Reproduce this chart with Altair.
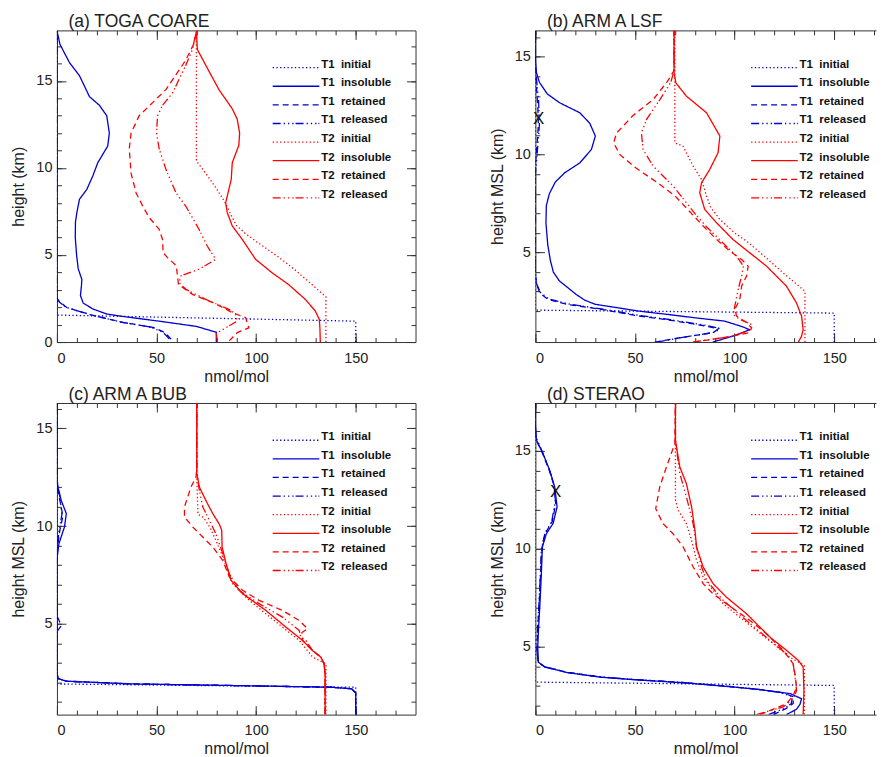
import altair as alt
import pandas as pd

# ---------------- data: (mixing ratio nmol/mol, height km) ----------------
A_T1_INITIAL = [(150, 0), (150, 1.2), (0, 1.55), (0, 17.9)]
A_T1_INSOLUBLE = [(80, 0), (80, 0.56), (70, 0.9), (50, 1.22), (33, 1.47), (25, 1.61), (18, 1.9),
                  (13.2, 2.24), (11.8, 2.66), (12.3, 3.24), (12.5, 3.6), (10.7, 4.2), (9.9, 4.96),
                  (9.2, 6.0), (9.3, 6.9), (10, 7.43), (11.3, 8.2), (15, 8.77), (18, 9.54), (20.5, 10.3),
                  (25.5, 11.26), (26.3, 12.0), (25, 13.0), (21.3, 13.6), (16.3, 14.1), (11.3, 15.3),
                  (6.3, 16.05), (1.5, 17.1), (0, 17.9)]
A_T1_RETAINED = [(57.3, 0.17), (55, 0.45), (53.2, 0.6), (48.2, 0.84), (33.2, 1.13), (19.9, 1.48),
                 (9.9, 1.8), (4.9, 1.99), (1.5, 2.3), (0, 2.5), (0, 17.9)]
A_T1_RELEASED = [(56.5, 0.17), (54, 0.48), (52, 0.62), (47, 0.86), (32, 1.15), (19, 1.5),
                 (9.5, 1.82), (4.5, 2.0), (1.2, 2.3), (0, 2.5), (0, 17.9)]
A_T2_INITIAL = [(135, 0), (135, 2.6), (128, 3.3), (120, 4.1), (111, 4.9), (101, 5.7), (95, 6.2),
                (90, 6.7), (87, 7.4), (84, 8.1), (79, 9.0), (74, 9.8), (70, 10.4), (70, 17.9)]
A_T2_INSOLUBLE = [(132.2, 0), (132, 0.8), (131.7, 1.3), (129.7, 1.78), (124.7, 2.45), (116.3, 3.3),
                  (108, 3.98), (99.7, 4.75), (93, 5.9), (88, 6.67), (85.5, 7.43), (84.7, 8.0),
                  (86.3, 8.77), (87.5, 9.35), (88, 10.3), (91.3, 11.3), (91.7, 12.0), (90.5, 12.8),
                  (88, 13.4), (81.3, 14.5), (74.7, 15.9), (70.5, 16.8), (70, 17.9)]
A_T2_RETAINED = [(86.5, 0.07), (90.5, 0.54), (96.3, 0.82), (94.7, 1.4), (88, 1.69), (80, 2.18),
                 (68, 2.74), (61, 3.3), (60.5, 3.8), (59.9, 4.39), (55.5, 4.85), (53.3, 5.13),
                 (53, 5.9), (51.3, 6.48), (46.3, 7.15), (43, 7.82), (39.7, 8.58), (37.2, 9.7),
                 (36.3, 11.1), (37.2, 12.0), (41.3, 13.0), (48, 13.75), (54.7, 14.5), (64.7, 16.2),
                 (69, 17.2), (70, 17.9)]
A_T2_RELEASED = [(80.5, 0.05), (80, 0.5), (86, 0.9), (90.5, 1.2), (89.7, 1.59), (86.3, 1.88),
                 (74.7, 2.45), (64.7, 3.03), (61.3, 3.4), (62.2, 3.8), (71.3, 4.18), (79.7, 4.75),
                 (75.5, 5.5), (71.3, 6.48), (64.7, 7.8), (59.7, 8.58), (54.7, 9.92), (51.3, 11.1),
                 (50, 12.0), (50.5, 13.0), (53, 13.6), (58, 14.3), (64.7, 15.9), (68, 16.8), (70, 17.9)]

B_T1_INITIAL = [(150, 0.42), (150, 1.9), (0, 2.05), (0, 16.35)]
B_T1_INSOLUBLE = [(89, 0.42), (100, 0.75), (107.5, 1.05), (104, 1.2), (95, 1.49), (80, 1.66),
                  (66.6, 1.83), (52, 2.0), (41.5, 2.17), (30, 2.35), (24.8, 2.56), (20.5, 2.85),
                  (16.4, 3.19), (12, 3.55), (9, 4.0), (7.5, 4.6), (6.2, 5.4), (5.3, 6.5), (5.5, 7.4),
                  (7, 8.0), (10, 8.6), (14.7, 9.07), (22.3, 9.58), (28.1, 10.26), (30.1, 10.95),
                  (27.3, 11.6), (22.3, 12.14), (12.2, 12.65), (6, 13.1), (2, 13.7), (0.5, 14.2),
                  (0, 14.8), (0, 16.35)]
B_T1_RETAINED = [(59.9, 0.42), (72.5, 0.64), (89.2, 0.9), (91.8, 1.1), (85, 1.25), (66.7, 1.55),
                 (50, 1.78), (33.1, 2.09), (16.3, 2.34), (6.3, 2.6), (2.2, 2.94), (0.5, 3.4), (0, 4.0),
                 (0, 9.5), (0.8, 10.5), (1.5, 11.5), (1.2, 12.5), (0.5, 13.5), (0, 14.5), (0, 16.35)]
B_T1_RELEASED = [(61, 0.42), (74, 0.66), (90.5, 0.93), (92.5, 1.12), (86, 1.27), (68, 1.56),
                 (51, 1.8), (34, 2.1), (17, 2.36), (6.8, 2.62), (2.5, 2.96), (0.6, 3.4), (0, 4.0),
                 (0, 9.0), (1.0, 10.2), (2.0, 11.5), (1.6, 12.8), (0.6, 13.8), (0, 14.6), (0, 16.35)]
B_T2_INITIAL = [(135.3, 0.42), (135.3, 3.02), (125, 3.9), (115, 4.8), (107, 5.5), (100, 6.0),
                (92.6, 6.69), (88, 7.3), (85.9, 7.88), (83.4, 8.73), (79.2, 9.41), (74.1, 10.43),
                (70, 10.6), (70, 16.35)]
B_T2_INSOLUBLE = [(132, 0.42), (133.6, 0.72), (134.4, 1.06), (133.6, 1.75), (131, 2.43), (126, 3.28),
                  (116, 4.3), (107.6, 4.98), (99.2, 5.66), (90.9, 6.52), (85, 7.2), (82.5, 8.05),
                  (83.4, 8.56), (87.5, 9.24), (91.7, 10.1), (92.6, 10.95), (85.9, 12.14),
                  (75.8, 12.99), (70.5, 13.67), (69.6, 14.2), (69.6, 16.35)]
B_T2_RETAINED = [(79.2, 0.42), (94.3, 0.64), (107.6, 0.9), (108.5, 1.15), (106, 1.41), (101, 1.75),
                 (100.1, 2.09), (102.6, 2.6), (103.5, 3.28), (106, 3.79), (106.8, 4.3), (103.5, 4.64),
                 (97.6, 5.07), (90.9, 5.67), (84.2, 6.35), (79.2, 6.9), (70, 7.9), (60.8, 8.6),
                 (50.7, 9.3), (42.4, 10.0), (39.3, 10.6), (40.7, 11.1), (49, 12.0), (59.1, 12.82),
                 (66, 13.7), (69.6, 14.3), (69.6, 16.35)]
B_T2_RELEASED = [(79.2, 0.42), (99.3, 0.72), (108.5, 1.06), (108.5, 1.32), (102.6, 1.58), (99.3, 1.83),
                 (100.1, 2.26), (101.8, 3.11), (103.5, 3.79), (104.4, 4.3), (101, 4.81), (94, 5.5),
                 (86, 6.3), (80, 7.0), (75.8, 7.54), (69.1, 8.4), (59.1, 9.41), (54.1, 10.26),
                 (53.2, 11.1), (55.8, 11.8), (62.4, 12.8), (68, 13.7), (69.6, 14.3), (69.6, 16.35)]

C_T1_INITIAL = [(150, 0.35), (150, 1.75), (0, 1.92), (0, 16.3)]
C_T1_INSOLUBLE = [(150, 0.35), (150, 1.45), (148, 1.67), (138, 1.75), (88, 1.84), (38, 1.92),
                  (4.7, 2.06), (0.5, 2.2), (0, 2.5), (0, 8.3), (1, 9.1), (3.8, 9.96), (4.7, 10.64),
                  (2.2, 11.3), (0.5, 12.0), (0, 12.5), (0, 16.3)]
C_T1_RETAINED = [(150, 0.35), (150, 1.45), (148, 1.67), (138, 1.75), (88, 1.84), (38, 1.92),
                 (4.7, 2.06), (0.5, 2.2), (0, 2.5), (0, 4.6), (2.2, 4.9), (0.5, 5.3), (0, 5.8),
                 (0, 8.8), (1.5, 9.8), (3, 10.5), (1.5, 11.3), (0, 12.0), (0, 16.3)]
C_T1_RELEASED = [(150, 0.35), (150, 1.45), (148, 1.67), (138, 1.75), (88, 1.84), (38, 1.92),
                 (4.7, 2.06), (0.5, 2.2), (0, 2.5), (0, 8.8), (1, 9.7), (2.5, 10.6), (1.5, 11.5),
                 (0, 12.2), (0, 16.3)]
C_T2_INITIAL = [(135, 0.35), (135, 2.95), (128.3, 3.3), (121.6, 4.15), (113.2, 4.83), (104.9, 5.51),
                (96.5, 6.2), (88.2, 7.05), (86, 7.6), (84, 8.25), (80.5, 9.1), (77, 9.9),
                (73.5, 10.45), (70.8, 10.6), (70.5, 11.5), (70.2, 12.5), (70.2, 16.3)]
C_T2_INSOLUBLE = [(134.6, 0.35), (134.6, 2.44), (134.1, 2.95), (132.5, 3.29), (128.3, 3.63),
                  (123.3, 4.15), (114.9, 4.83), (104.9, 5.68), (93.2, 6.54), (87.4, 7.22),
                  (84.9, 8.08), (82.9, 8.93), (82.7, 9.79), (81.5, 10.1), (78.2, 10.64),
                  (74.8, 11.3), (71.5, 12.0), (70.2, 12.7), (70.2, 16.3)]
C_T2_RETAINED = [(134.6, 0.35), (134.6, 2.44), (134.1, 2.95), (132.5, 3.29), (128.3, 3.63),
                 (123.3, 4.15), (123, 4.55), (125.8, 4.74), (121.6, 5.17), (113.2, 5.68), (101.5, 6.2),
                 (93.2, 6.71), (86.5, 7.4), (83.2, 8.25), (78.2, 8.93), (73.2, 9.44), (68.1, 9.96),
                 (64, 10.47), (64, 10.98), (67.3, 12.0), (69.8, 12.5), (70.2, 13), (70.2, 16.3)]
C_T2_RELEASED = [(134.6, 0.35), (134.6, 2.44), (134.1, 2.95), (132.5, 3.29), (128.3, 3.63),
                 (125, 4.15), (122.5, 4.3), (121.6, 4.66), (113.2, 5.34), (101.5, 6.03), (91.5, 6.7),
                 (86.5, 7.56), (83.2, 8.6), (79.8, 9.6), (76.5, 10.3), (73.2, 10.98), (71.2, 12.0),
                 (70.2, 12.7), (70.2, 16.3)]

D_T1_INITIAL = [(150, 1.53), (150, 3.02), (0, 3.19), (0, 17.45)]
D_T1_INSOLUBLE = [(126, 1.53), (131, 1.8), (132.8, 2.05), (133.6, 2.34), (128, 2.6), (112, 2.82),
                  (95, 2.98), (75, 3.15), (50, 3.31), (33, 3.44), (16.4, 3.67), (4.7, 3.96),
                  (1.5, 4.21), (1.2, 5.0), (1.6, 6.0), (2.2, 7.02), (3, 8.73), (3.5, 10.09),
                  (5.5, 10.77), (8.9, 11.3), (10.9, 12.14), (9.7, 13.16), (7.2, 14.0), (3.85, 14.86),
                  (0.5, 15.55), (0, 16.2), (0, 17.45)]
D_T1_RETAINED = [(119.4, 1.53), (126, 1.85), (129.4, 2.1), (129.4, 2.45), (124, 2.65), (110, 2.84),
                 (95, 2.99), (75, 3.16), (50, 3.32), (33, 3.45), (16.4, 3.68), (4.7, 3.97),
                 (1.3, 4.22), (0.8, 5.0), (1.2, 6.0), (1.8, 7.0), (2.6, 8.7), (3.2, 10.0), (5, 10.8),
                 (8.5, 11.4), (10.2, 12.3), (9.5, 13.2), (7, 14.0), (3.5, 14.9), (0.3, 15.6),
                 (0, 16.2), (0, 17.45)]
D_T1_RELEASED = [(117, 1.53), (125, 1.85), (128.5, 2.1), (129, 2.45), (123, 2.66), (109, 2.85),
                 (94, 3.0), (74, 3.17), (49, 3.33), (32, 3.46), (16, 3.69), (4.5, 3.98), (1.2, 4.23),
                 (0.7, 5.0), (1.1, 6.0), (1.7, 7.0), (2.5, 8.7), (3.0, 10.0), (4.8, 10.8), (8.2, 11.4),
                 (10.0, 12.4), (9.3, 13.3), (6.8, 14.1), (3.3, 15.0), (0.3, 15.7), (0, 16.3), (0, 17.45)]
D_T2_INITIAL = [(135, 1.53), (135, 4.04), (127.7, 4.47), (119.4, 5.15), (111, 5.83), (102.6, 6.51),
                (94.3, 7.19), (89.2, 7.88), (84.2, 8.56), (80.9, 9.41), (78.4, 10.43), (75.8, 11.28),
                (71.7, 11.97), (70.3, 12.5), (70.3, 17.45)]
D_T2_INSOLUBLE = [(134.4, 1.53), (134.8, 2.76), (134.4, 3.96), (132, 4.3), (126.1, 4.81),
                  (117.7, 5.49), (106, 6.68), (95.9, 7.53), (89.2, 8.22), (84.2, 9.07), (80.9, 10.09),
                  (80.1, 10.94), (78.4, 12.14), (75.8, 13.33), (72.5, 14.18), (70.3, 15.55),
                  (70.3, 17.45)]
D_T2_RETAINED = [(112.7, 1.53), (126, 2.08), (129.4, 2.51), (131.1, 2.93), (130.3, 3.61),
                 (129.4, 4.13), (124.4, 4.81), (116, 5.66), (107.7, 6.34), (95.9, 7.19), (89.2, 7.7),
                 (84.2, 8.22), (79.2, 9.07), (74.2, 10.09), (69.1, 10.77), (64.1, 11.28),
                 (60.4, 12.05), (62.4, 13.16), (65.8, 14.18), (70, 15.38), (70.3, 17.45)]
D_T2_RELEASED = [(111, 1.53), (124.4, 1.92), (129.4, 2.34), (131.1, 2.76), (130.3, 3.44),
                 (129.4, 4.13), (126.1, 4.64), (117.7, 5.32), (106, 6.34), (94.3, 7.36), (86, 8.39),
                 (83.4, 9.07), (80.9, 10.09), (79.2, 11.28), (75.8, 12.65), (72.5, 13.84),
                 (70.3, 15.5), (70.3, 17.45)]

B_MARKER = [(1.7, 11.8)]
D_MARKER = [(10.2, 12.9)]

TRACERS = ["T1", "T2"]
KINDS = ["initial", "insoluble", "retained", "released"]
X_MAJOR = [0, 50, 100, 150]
X_MINOR = list(range(0, 180, 10))

# ---------------- styles / layout ----------------
BLUE = "#0000d0"
RED = "#ff0000"
FRAME = "#333333"
TXT = "#222222"
FONT = "Liberation Sans"
DASHES = [[1.3, 2.4], [1, 0], [6, 4], [8, 3, 1.3, 3, 1.3, 3, 1.3, 2]]
W_L, W_R, H = 359, 341, 312
PXU = W_L / 180.0
LEG_X1, LEG_X2, LEG_TX = 216, 262.7, 264.5
LEG_Y0, LEG_DY = 37.3, 18.63


def series_of(prefix):
    g = globals()
    out = {}
    for tr in TRACERS:
        for k in KINDS:
            out[(tr, k)] = g[f"{prefix}_{tr}_{k.upper()}"]
    return out


PANELS = [
    dict(title="(a) TOGA COARE", ytitle="height (km)", ydom=[0, 17.9], ymajor=[0, 5, 10, 15],
         col="L", series=series_of("A"), marker=[]),
    dict(title="(b) ARM A LSF", ytitle="height MSL (km)", ydom=[0.42, 16.35], ymajor=[5, 10, 15],
         col="R", series=series_of("B"), marker=B_MARKER),
    dict(title="(c) ARM A BUB", ytitle="height MSL (km)", ydom=[0.35, 16.3], ymajor=[5, 10, 15],
         col="L", series=series_of("C"), marker=[]),
    dict(title="(d) STERAO", ytitle="height MSL (km)", ydom=[1.53, 17.45], ymajor=[5, 10, 15],
         col="R", series=series_of("D"), marker=D_MARKER),
]


def tick_axis(orient, values, size, offset, domain=False):
    return alt.Axis(orient=orient, values=values, tickSize=size, offset=offset, labels=False,
                    title="", grid=False, ticks=True, tickColor=FRAME, tickWidth=1,
                    domain=domain, domainColor=FRAME, domainWidth=1)


def build(p):
    W = W_L if p["col"] == "L" else W_R
    xmax = 180 if p["col"] == "L" else round(W_R / PXU, 2)
    y0, y1 = p["ydom"]
    ymin_tick = int(y0) if y0 == int(y0) else int(y0) + 1
    yminor = list(range(ymin_tick, int(y1) + 1))

    rows = []
    for (tr, kind), pts in p["series"].items():
        for i, (x, y) in enumerate(pts):
            rows.append(dict(x=x, y=y, tracer=tr, kind=kind, key=f"{tr} {kind}", i=i))
    df = pd.DataFrame(rows)

    xs = alt.Scale(domain=[0, xmax], nice=False, zero=False)
    ys = alt.Scale(domain=[y0, y1], nice=False, zero=False)
    color = alt.Color("tracer:N", scale=alt.Scale(domain=TRACERS, range=[BLUE, RED]), legend=None)
    dash = alt.StrokeDash("kind:N", scale=alt.Scale(domain=KINDS, range=DASHES), legend=None)

    xax = alt.Axis(orient="bottom", values=X_MAJOR, ticks=False, tickSize=0, grid=False,
                   domain=True, domainColor=FRAME, domainWidth=1,
                   labelFont=FONT, labelFontSize=14.5, labelColor=TXT, labelPadding=16,
                   labelBaseline="middle",
                   title="nmol/mol", titleFont=FONT, titleFontSize=16, titleFontWeight="normal",
                   titleColor=TXT, titleX=W / 2, titleY=34, titleBaseline="middle",
                   titleAlign="center")
    yax = alt.Axis(orient="left", values=p["ymajor"], ticks=False, tickSize=0, grid=False,
                   domain=True, domainColor=FRAME, domainWidth=1,
                   labelFont=FONT, labelFontSize=14.5, labelColor=TXT, labelPadding=5,
                   title=p["ytitle"], titleFont=FONT, titleFontSize=16, titleFontWeight="normal",
                   titleColor=TXT, titleX=-38, titleY=H / 2, titleAngle=270,
                   titleBaseline="middle", titleAlign="center")

    lines = alt.Chart(df).mark_line(strokeWidth=1.3, clip=True).encode(
        x=alt.X("x:Q", scale=xs, axis=xax),
        y=alt.Y("y:Q", scale=ys, axis=yax),
        color=color, strokeDash=dash, detail="key:N", order="i:Q")

    def axis_layer(ax_x, ax_y):
        enc_y = alt.Y("y:Q", scale=ys, axis=ax_y) if ax_y is not None else alt.Y("y:Q", scale=ys, axis=None)
        return alt.Chart(df).mark_point(opacity=0, size=1).encode(
            x=alt.X("x:Q", scale=xs, axis=ax_x), y=enc_y)

    left = p["col"] == "L"
    layers = [lines,
              axis_layer(tick_axis("top", X_MINOR, 4.5, -H), tick_axis("right", yminor, 4.5, -W)),
              axis_layer(tick_axis("top", X_MAJOR, 9, -H), tick_axis("right", p["ymajor"], 9, -W)),
              axis_layer(tick_axis("bottom", X_MINOR, 4.5, -H, domain=True),
                         tick_axis("left", yminor, 4.5, -W, domain=True) if left else None),
              axis_layer(tick_axis("bottom", X_MAJOR, 9, -H),
                         tick_axis("left", p["ymajor"], 9, -W) if left else None)]

    # in-plot legend
    pxu = W / xmax
    lg = []
    for i, (tr, kind) in enumerate([(t, k) for t in TRACERS for k in KINDS]):
        ypx = LEG_Y0 + i * LEG_DY
        lg.append(dict(tracer=tr, kind=kind, lx1=LEG_X1 / pxu, lx2=LEG_X2 / pxu, tx=LEG_TX / pxu,
                       ly=y1 - ypx * (y1 - y0) / H, label=f"{tr}\u00a0\u00a0{kind}"))
    lg = pd.DataFrame(lg)
    leg_lines = alt.Chart(lg).mark_rule(strokeWidth=1.3).encode(
        x=alt.X("lx1:Q", scale=xs, axis=None), x2="lx2:Q",
        y=alt.Y("ly:Q", scale=ys, axis=None), color=color, strokeDash=dash)
    leg_text = alt.Chart(lg).mark_text(align="left", baseline="alphabetic", font=FONT, fontSize=11.5,
                                       fontWeight="bold", color="#111111").encode(
        x=alt.X("tx:Q", scale=xs, axis=None), y=alt.Y("ly:Q", scale=ys, axis=None), text="label:N")
    layers += [leg_lines, leg_text]

    if p["marker"]:
        mk = pd.DataFrame([dict(x=x, y=y, t="X") for x, y in p["marker"]])
        layers.append(alt.Chart(mk).mark_text(font=FONT, fontSize=17, color="#111111",
                                              align="center", baseline="middle").encode(
            x=alt.X("x:Q", scale=xs, axis=None), y=alt.Y("y:Q", scale=ys, axis=None), text="t:N"))

    # panel title as a text mark placed just above the plot frame
    ttl = alt.Chart(pd.DataFrame({"t": [p["title"]]})).mark_text(
        align="left", baseline="alphabetic", font=FONT, fontSize=17.5, color=TXT).encode(
        text="t:N", x=alt.value(11.5), y=alt.value(-3))
    layers.append(ttl)

    return alt.layer(*layers).resolve_axis(x="independent", y="independent").properties(
        width=W, height=H)


panels = [build(p) for p in PANELS]
chart = alt.ConcatChart(concat=panels, columns=2, spacing={"row": 61, "column": 120},
                        bounds="flush").properties(
    padding={"left": 2, "top": 4, "right": 0, "bottom": 0}
).configure_view(stroke="transparent")

chart.save("out.html", embed_options={"renderer": "svg", "actions": False})
